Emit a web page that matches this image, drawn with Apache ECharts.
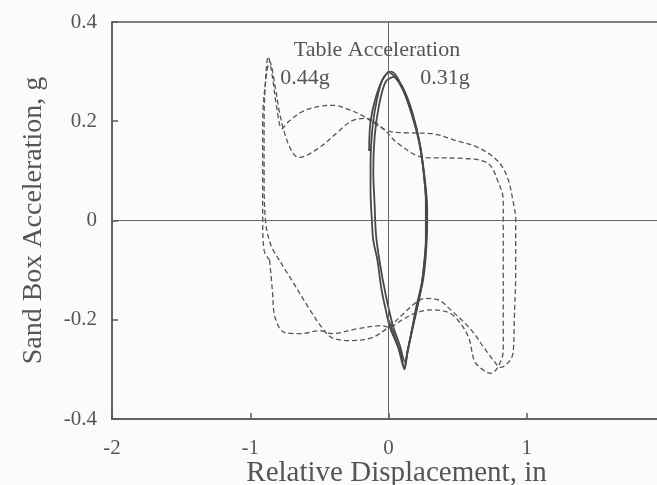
<!DOCTYPE html>
<html>
<head>
<meta charset="utf-8">
<script src="https://cdn.jsdelivr.net/npm/echarts@6/dist/echarts.min.js"></script>
<style>
  html, body { margin: 0; padding: 0; background: #fbfbf9; }
  #main { width: 657px; height: 485px; }
</style>
</head>
<body>
<div id="main"></div>
<script>
// axis ticks
const xTicks = [-2, -1, 0, 1, 2];
const yTicks = [-0.4, -0.2, 0, 0.2, 0.4];

/* 0.44g table acceleration - dashed loops */
const dashedLoopA = [
  [-0.79,-0.08],[-0.85,-0.05],[-0.89,0.0],[-0.90,0.1],[-0.90,0.2],[-0.89,0.28],[-0.87,0.33],
  [-0.84,0.29],[-0.81,0.23],[-0.77,0.185],[-0.72,0.2],[-0.62,0.22],[-0.5,0.23],[-0.4,0.232],
  [-0.3,0.225],[-0.18,0.21],[-0.07,0.19],[0.0,0.18],[0.1,0.177],[0.31,0.175],[0.5,0.16],
  [0.65,0.147],[0.79,0.12],[0.86,0.087],[0.9,0.04],[0.92,0.0],[0.92,-0.1],[0.91,-0.2],
  [0.9,-0.268],[0.86,-0.288],[0.81,-0.296],[0.76,-0.282],[0.69,-0.256],[0.62,-0.228],
  [0.55,-0.206],[0.45,-0.18],[0.36,-0.16],[0.26,-0.157],[0.19,-0.167],[0.1,-0.19],
  [0.0,-0.215],[-0.12,-0.236],[-0.27,-0.242],[-0.41,-0.236],[-0.48,-0.216],[-0.58,-0.175],
  [-0.7,-0.12],[-0.79,-0.08]
];
const dashedLoopB = [
  [-0.86,-0.08],[-0.84,-0.14],[-0.82,-0.196],[-0.75,-0.226],[-0.63,-0.228],[-0.5,-0.222],
  [-0.41,-0.228],[-0.22,-0.218],[-0.05,-0.212],[0.0,-0.215],[0.1,-0.2],[0.2,-0.186],
  [0.31,-0.18],[0.43,-0.185],[0.5,-0.2],[0.58,-0.236],[0.62,-0.282],[0.67,-0.298],
  [0.74,-0.308],[0.79,-0.296],[0.83,-0.262],[0.83,-0.2],[0.83,-0.1],[0.83,0.0],[0.83,0.04],
  [0.79,0.08],[0.72,0.115],[0.55,0.125],[0.26,0.127],[0.07,0.155],[-0.05,0.188],
  [-0.17,0.206],[-0.27,0.2],[-0.36,0.18],[-0.5,0.147],[-0.65,0.127],[-0.7,0.14],
  [-0.75,0.175],[-0.79,0.22],[-0.82,0.27],[-0.86,0.32],[-0.88,0.3],[-0.91,0.2],
  [-0.91,0.1],[-0.91,0.0],[-0.9,-0.06],[-0.86,-0.08]
];

/* 0.31g table acceleration - solid loops */
const solidLoop1 = [
  [0.0,0.30],[0.06,0.285],[0.14,0.24],[0.21,0.175],[0.25,0.107],[0.27,0.04],[0.27,-0.04],
  [0.26,-0.08],[0.24,-0.127],[0.20,-0.175],[0.165,-0.228],[0.13,-0.276],[0.115,-0.298],
  [0.07,-0.256],[0.01,-0.215],[-0.02,-0.18],[-0.05,-0.14],[-0.08,-0.08],[-0.11,-0.04],
  [-0.12,0.0],[-0.13,0.06],[-0.13,0.11],[-0.12,0.175],[-0.1,0.22],[-0.05,0.28],[0.0,0.30]
];
const solidLoop2 = [
  [0.04,0.29],[0.1,0.27],[0.17,0.22],[0.23,0.15],[0.26,0.08],[0.28,0.0],[0.27,-0.07],
  [0.25,-0.12],[0.21,-0.17],[0.17,-0.22],[0.14,-0.26],[0.12,-0.285],[0.08,-0.25],
  [0.03,-0.21],[-0.02,-0.15],[-0.06,-0.09],[-0.09,-0.03],[-0.1,0.03],[-0.11,0.1],
  [-0.1,0.17],[-0.07,0.23],[-0.02,0.28],[0.04,0.29]
];
const solidLoop3 = [
  [-0.14,0.14],[-0.13,0.2],[-0.09,0.25],[-0.03,0.29],[0.02,0.3],[0.08,0.28],[0.15,0.23],
  [0.22,0.16],[0.26,0.09],[0.28,0.02],[0.27,-0.05],[0.25,-0.11],[0.22,-0.16],[0.18,-0.21],
  [0.14,-0.26],[0.115,-0.3],[0.09,-0.27],[0.04,-0.23],[0.0,-0.2]
];

const serif = 'Liberation Serif';
const txt = '#555';

var myChart = echarts.init(document.getElementById('main'));

function dashed(data) {
  return {
    type: 'line', data: data, smooth: 0.35, symbol: 'none', silent: true,
    lineStyle: { color: '#555', width: 1.3, type: [5, 3] }
  };
}
function solid(data) {
  return {
    type: 'line', data: data, smooth: 0.35, symbol: 'none', silent: true,
    lineStyle: { color: '#484848', width: 1.8 }
  };
}

var series = [
  dashed(dashedLoopA),
  dashed(dashedLoopB),
  solid(solidLoop1),
  solid(solidLoop2),
  solid(solidLoop3)
];
// zero lines
series[0].markLine = {
  silent: true, symbol: 'none', label: { show: false },
  lineStyle: { color: '#666', width: 1, type: 'solid' },
  data: [{ xAxis: 0 }, { yAxis: 0 }]
};

var option = {
  backgroundColor: '#fbfbf9',
  animation: false,
  grid: {
    left: 112, right: -8, top: 22, bottom: 66,
    outerBoundsMode: 'none', containLabel: false,
    show: true, borderColor: '#5a5a5a', borderWidth: 1.5
  },
  xAxis: {
    type: 'value',
    min: xTicks[0], max: xTicks[xTicks.length - 1], interval: 1,
    name: 'Relative Displacement, in',
    nameLocation: 'middle', nameGap: 40, nameMoveOverlap: false,
    nameTextStyle: { fontFamily: serif, fontSize: 29, color: txt, padding: [0, 0, 0, 16] },
    axisLine: { onZero: false, lineStyle: { color: '#5a5a5a', width: 1.5 } },
    axisTick: { inside: true, length: 6, lineStyle: { color: '#5a5a5a', width: 1.5 } },
    axisLabel: { fontFamily: serif, fontSize: 21, color: txt, margin: 19, showMaxLabel: false },
    splitLine: { show: false }
  },
  yAxis: {
    type: 'value',
    min: yTicks[0], max: yTicks[yTicks.length - 1], interval: 0.2,
    name: 'Sand Box Acceleration, g',
    nameLocation: 'middle', nameGap: 64, nameRotate: 90, nameMoveOverlap: false,
    nameTextStyle: { fontFamily: serif, fontSize: 28, color: txt },
    axisLine: { onZero: false, lineStyle: { color: '#5a5a5a', width: 1.5 } },
    axisTick: { inside: true, length: 6, lineStyle: { color: '#5a5a5a', width: 1.5 } },
    axisLabel: { fontFamily: serif, fontSize: 21, color: txt, margin: 15 },
    splitLine: { show: false }
  },
  graphic: [
    { type: 'text', x: 377, y: 50, style: { text: 'Table Acceleration', font: '22px "Liberation Serif"', fill: txt, align: 'center', verticalAlign: 'middle' } },
    { type: 'text', x: 305, y: 78, style: { text: '0.44g', font: '22px "Liberation Serif"', fill: txt, align: 'center', verticalAlign: 'middle' } },
    { type: 'text', x: 445, y: 78, style: { text: '0.31g', font: '22px "Liberation Serif"', fill: txt, align: 'center', verticalAlign: 'middle' } }
  ],
  series: series
};
myChart.setOption(option);
</script>
</body>
</html>
